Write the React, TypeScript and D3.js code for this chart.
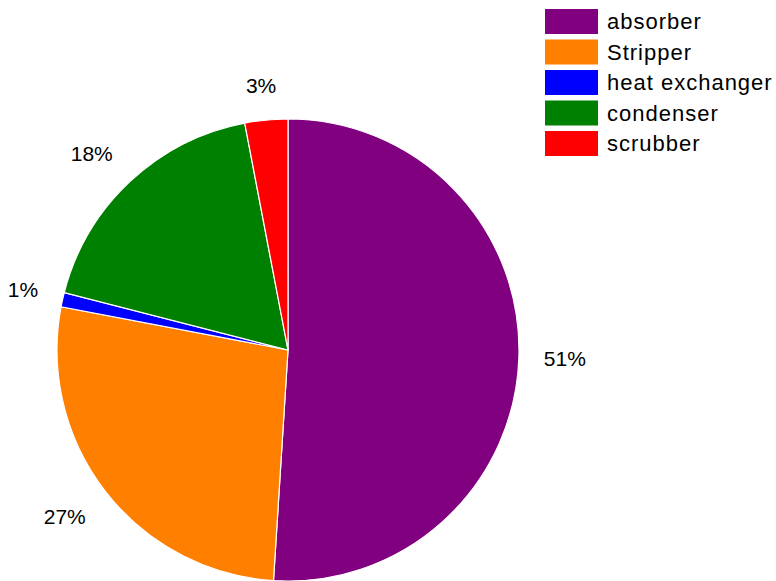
import React from "react";
import * as d3 from "d3";

const categories = ["absorber", "Stripper", "heat exchanger", "condenser", "scrubber"];
const values = [51, 27, 1, 18, 3];
const labels = ["51%", "27%", "1%", "18%", "3%"];
const colors = ["#800080", "#ff8000", "#0000ff", "#008000", "#ff0000"];

export default function App() {
  const W = 776, H = 581;
  const cx = 288, cy = 350, r = 231;
  const pie = d3.pie<number>().sort(null).value((d) => d)(values);
  const arc = d3.arc<d3.PieArcDatum<number>>().innerRadius(0).outerRadius(r);
  const labelR = 256;
  const fs = 21;
  const legendX = 545, legendY = 9, rowH = 30.5;
  const clamp = (v: number) => Math.max(-1, Math.min(1, v));
  return (
    <svg width={W} height={H} style={{ position: "absolute", left: 0, top: 0, background: "#fff" }}
      fontFamily="Liberation Sans, Arial, sans-serif">
      <g transform={`translate(${cx},${cy})`}>
        {pie.map((p, i) => (
          <path key={i} d={arc(p) || ""} fill={colors[i]} stroke="#fff" strokeWidth={1.2} />
        ))}
        {pie.map((p, i) => {
          const a = (p.startAngle + p.endAngle) / 2;
          const ux = Math.sin(a), uy = -Math.cos(a);
          const txt = labels[i];
          const w = ((txt.length - 1) * 0.556 + 0.889) * fs;
          const h = 20;
          const x = labelR * ux + (w / 2) * clamp(ux * 2);
          const y = labelR * uy + (h / 2) * clamp(uy * 2);
          return (
            <text key={i} x={x} y={y} textAnchor="middle" dominantBaseline="central" fontSize={fs} fill="#000">
              {txt}
            </text>
          );
        })}
      </g>
      <g>
        {categories.map((c, i) => (
          <g key={c} transform={`translate(${legendX},${legendY + i * rowH})`}>
            <rect width={53} height={25} fill={colors[i]} />
            <text x={62} y={12.5} dominantBaseline="central" fontSize={22} letterSpacing={1} fill="#000">{c}</text>
          </g>
        ))}
      </g>
    </svg>
  );
}
